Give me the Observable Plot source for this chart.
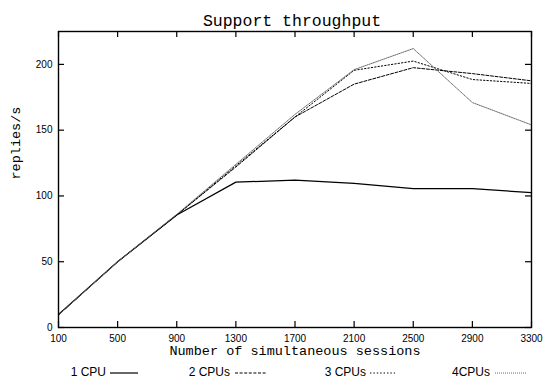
<!DOCTYPE html>
<html>
<head>
<meta charset="utf-8">
<script src="https://cdn.jsdelivr.net/npm/d3@7"></script>
<script src="https://cdn.jsdelivr.net/npm/@observablehq/plot@0.6"></script>
<style>
  html, body { margin: 0; padding: 0; background: #fff; }
  #wrap { position: relative; width: 544px; height: 381px; overflow: hidden; }
  #legend { position: absolute; left: 0; top: 362px; width: 544px; height: 19px; font-family: "Liberation Sans", Arial, sans-serif; font-size: 12px; color: #000; }
  .lt { position: absolute; top: 3px; line-height: 15px; text-align: right; white-space: nowrap; }
  .ls { position: absolute; top: 3px; }
</style>
</head>
<body>
<div id="wrap"></div>
<script>
const title = "Support throughput";
const xLabel = "Number of simultaneous sessions";
const yLabel = "replies/s";
const sessions = [100, 500, 900, 1300, 1700, 2100, 2500, 2900, 3300];
const cpu1 = [10, 50, 85.5, 110.5, 112, 109.5, 105.5, 105.5, 102.5];
const cpu2 = [9.5, 50, 85.5, 122, 160, 185, 197.5, 193, 187.5];
const cpu3 = [9.5, 50, 85.5, 123, 160, 195.5, 202.5, 188.5, 185.5];
const cpu4 = [9.5, 50, 86, 124, 162, 196, 212, 171, 154];
const seriesNames = ["1 CPU", "2 CPUs", "3 CPUs", "4CPUs"];
const xTicks = [100, 500, 900, 1300, 1700, 2100, 2500, 2900, 3300];
const yTicks = [0, 50, 100, 150, 200];

const seriesValues = [cpu1, cpu2, cpu3, cpu4];
const styles = [
  {stroke: "#000", strokeWidth: 1.2, strokeDasharray: null},
  {stroke: "#000", strokeWidth: 1, strokeDasharray: "3,1.6"},
  {stroke: "#000", strokeWidth: 1, strokeDasharray: "1.4,2"},
  {stroke: "#6a6a6a", strokeWidth: 1, strokeDasharray: "1,1"}
];
const tables = seriesValues.map((vals, i) => sessions.map((s, j) => ({x: s, y: vals[j], series: seriesNames[i]})));

const mono = "Liberation Mono, Courier New, monospace";
const W = 544, H = 362, mT = 31, mB = 35, mL = 58, mR = 13, tick = 6;
const fw = W - mL - mR, fh = H - mT - mB;
const xDom = [100, 3300], yDom = [0, 225];
// tick lengths converted to data units
const tx = tick * (xDom[1] - xDom[0]) / fw;
const ty = tick * (yDom[1] - yDom[0]) / fh;

const chart = Plot.plot({
  width: W,
  height: H,
  marginTop: mT,
  marginBottom: mB,
  marginLeft: mL,
  marginRight: mR,
  style: {fontFamily: "Liberation Sans, Arial, sans-serif", fontSize: "10px", background: "#fff", color: "#000"},
  x: {domain: xDom},
  y: {domain: yDom},
  marks: [
    Plot.axisX({anchor: "bottom", ticks: xTicks, tickSize: 0, tickPadding: 7, tickFormat: d => String(d), label: null, fontSize: 10}),
    Plot.axisY({anchor: "left", ticks: yTicks, tickSize: 0, tickPadding: 6, label: null, fontSize: 10}),
    Plot.ruleX(xTicks, {x: d => d, y1: yDom[0], y2: yDom[0] + ty, stroke: "#000", strokeWidth: 1.2}),
    Plot.ruleX(xTicks, {x: d => d, y1: yDom[1] - ty, y2: yDom[1], stroke: "#000", strokeWidth: 1.2}),
    Plot.ruleY(yTicks, {y: d => d, x1: xDom[0], x2: xDom[0] + tx, stroke: "#000", strokeWidth: 1.2}),
    Plot.ruleY(yTicks, {y: d => d, x1: xDom[1] - tx, x2: xDom[1], stroke: "#000", strokeWidth: 1.2}),
    ...tables.map((t, i) => Plot.line(t, {x: "x", y: "y", ...styles[i], strokeLinejoin: "round"})),
    Plot.frame({stroke: "#000", strokeWidth: 1.4}),
    Plot.text([title], {frameAnchor: "top", dy: -17, dx: -3, fontFamily: mono, fontSize: 16.5, fill: "#000"}),
    Plot.text([xLabel], {frameAnchor: "bottom", dy: 27, fontFamily: mono, fontSize: 13.5, fill: "#000"}),
    Plot.text([yLabel], {frameAnchor: "left", dx: -43, rotate: -90, fontFamily: mono, fontSize: 13.5, fill: "#000"})
  ]
});

const wrap = document.getElementById("wrap");
wrap.appendChild(chart);

// legend
const legend = d3.select(wrap).append("div").attr("id", "legend");
const textRight = [106, 230, 366, 490];
const sampleLeft = [110, 235, 370, 495];
const sampleWidth = [28, 32, 25, 31];
seriesNames.forEach((name, i) => {
  legend.append("div").attr("class", "lt")
    .style("left", "0px").style("width", textRight[i] + "px")
    .text(name);
  const svg = legend.append("svg").attr("class", "ls")
    .style("left", sampleLeft[i] + "px")
    .attr("width", sampleWidth[i]).attr("height", 15);
  svg.append("line")
    .attr("x1", 0).attr("x2", sampleWidth[i]).attr("y1", 8).attr("y2", 8)
    .attr("stroke", styles[i].stroke)
    .attr("stroke-width", styles[i].strokeWidth)
    .attr("stroke-dasharray", styles[i].strokeDasharray);
});
</script>
</body>
</html>
